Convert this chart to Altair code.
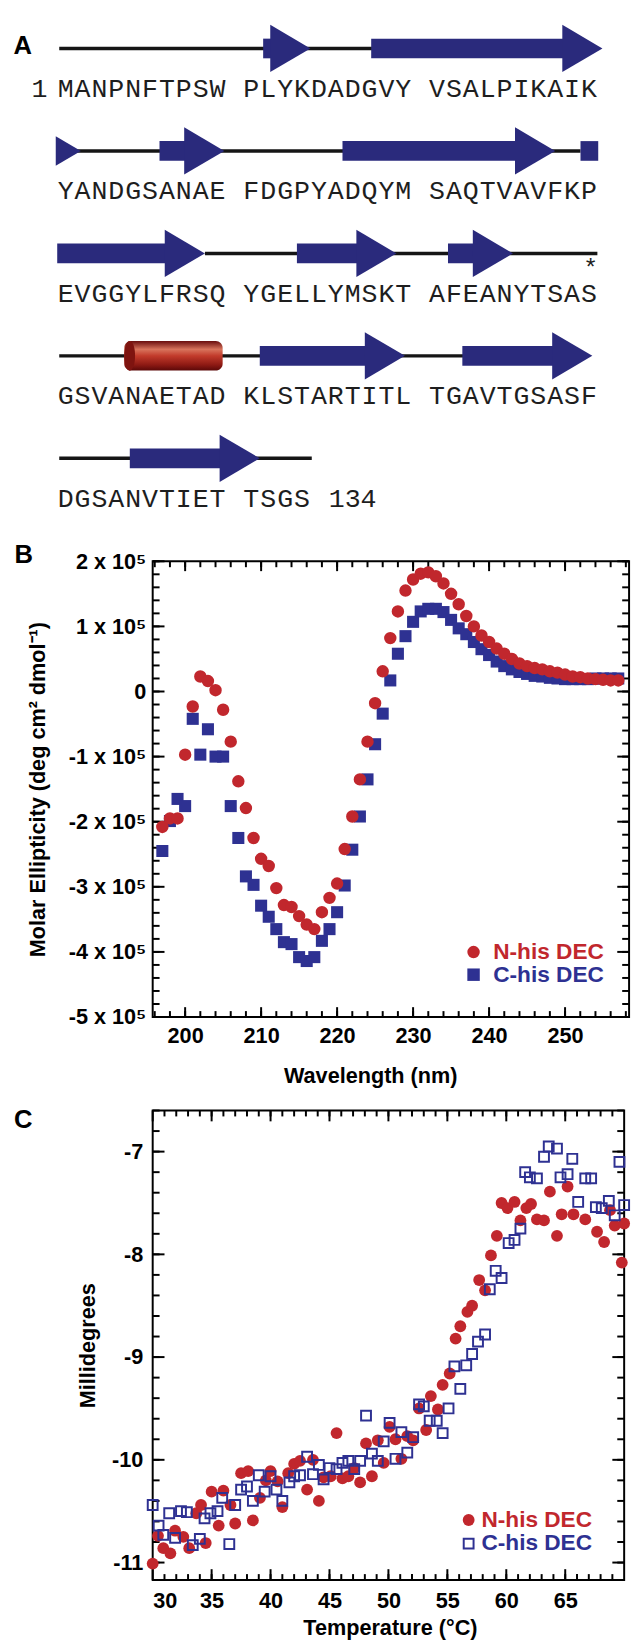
import altair as alt
import pandas as pd
import numpy as np

RED = "#c1272d"
BLUE = "#2e3192"
NAVY = "#2a2a7c"
SANS = "Liberation Sans"
MONO = "Liberation Mono"

# ---------------- Panel A data (sequence + secondary structure) ----------------
panel_labels = ["A", "B", "C"]
sequence_rows = [
    "MANPNFTPSWPLYKDADGVYVSALPIKAIK",
    "YANDGSANAEFDGPYADQYMSAQTVAVFKP",
    "EVGGYLFRSQYGELLYMSKTAFEANYTSAS",
    "GSVANAETADKLSTARTITLTGAVTGSASF",
    "DGSANVTIETTSGS",
]
end_numbers = ["1", "134"]
end_number_row = [0, 4]
end_number_col = [-1.05, 17.5]
marker_symbol = ["*"]
marker_row = [2.142]
marker_col = [31.6]

# positions in sequence-column units (one column per residue, blank column between blocks of 10)
coil_row = [0, 1, 2, 3, 4]
coil_from = [0.12, 0.5, 8.75, 0.12, 0.12]
coil_to = [31.0, 31.0, 32.0, 31.0, 15.08]

strand_row = [0, 0, 1, 1, 2, 2, 2, 3, 3, 4]
strand_from = [12.2, 18.6, 6.06, 16.9, 0.0, 14.2, 23.15, 12.0, 24.0, 4.3]
strand_tip = [15.0, 32.3, 9.9, 29.5, 8.75, 20.1, 27.0, 20.6, 31.7, 12.0]

cont_head_row = [1]
cont_head_tip = [1.4]
cont_body_row = [1]
cont_body_from = [31.0]
cont_body_to = [32.05]

helix_row = [3]
helix_from = [3.97]
helix_to = [9.8]

# ---------------- Panel B data (CD spectra) ----------------
series_names = ["N-his DEC", "C-his DEC"]
wavelength = list(range(197, 258))
n_his_cd = [-2.08, -1.95, -1.95, -0.97, -0.23, 0.23, 0.16, 0.02, -0.28, -0.77,
            -1.38, -1.79, -2.25, -2.57, -2.68, -3.02, -3.28, -3.31, -3.45, -3.58,
            -3.65, -3.39, -3.17, -2.95, -2.42, -1.92, -1.35, -0.77, -0.18, 0.31,
            0.82, 1.23, 1.55, 1.72, 1.81, 1.83, 1.77, 1.66, 1.50, 1.34,
            1.16, 1.00, 0.86, 0.76, 0.66, 0.58, 0.50, 0.43, 0.39, 0.36,
            0.34, 0.31, 0.29, 0.26, 0.23, 0.22, 0.20, 0.19, 0.18, 0.17, 0.17]
c_his_cd = [-2.45, -1.99, -1.65, -1.76, -0.42, -0.97, -0.58, -1.00, -1.00, -1.76,
            -2.25, -2.84, -2.97, -3.29, -3.46, -3.65, -3.85, -3.88, -4.08, -4.14,
            -4.08, -3.83, -3.65, -3.39, -2.98, -2.43, -1.92, -1.35, -0.81, -0.34,
            0.17, 0.58, 0.85, 1.07, 1.23, 1.27, 1.27, 1.22, 1.10, 0.97,
            0.88, 0.76, 0.65, 0.56, 0.46, 0.39, 0.34, 0.30, 0.27, 0.24,
            0.23, 0.21, 0.20, 0.19, 0.19, 0.19, 0.19, 0.20, 0.20, 0.20, 0.20]

# ---------------- Panel C data (thermal melt) ----------------
n_his_temp = [30.0, 30.45, 30.9, 31.5, 31.9, 32.6, 33.1, 33.7, 34.1, 34.5,
              35.0, 35.6, 36.0, 36.6, 37.0, 37.5, 38.1, 38.5, 39.1, 39.6,
              40.0, 40.6, 41.0, 41.5, 42.0, 42.5, 43.1, 43.6, 44.1, 44.5,
              45.1, 45.6, 46.1, 46.6, 47.1, 47.6, 48.1, 48.6, 49.1, 49.6,
              50.1, 50.6, 51.1, 51.6, 52.1, 52.6, 53.2, 53.6, 54.2, 54.6,
              55.2, 55.7, 56.1, 56.7, 57.1, 57.7, 58.2, 58.7, 59.2, 59.6,
              60.1, 60.7, 61.2, 61.7, 62.1, 62.6, 63.2, 63.7, 64.3, 64.7,
              65.2, 65.7, 66.7, 67.7, 68.3, 68.8, 69.2, 69.8, 70.0]
n_his_mdeg = [-11.01, -10.74, -10.86, -10.91, -10.69, -10.75, -10.86, -10.52, -10.44, -10.81,
              -10.31, -10.64, -10.30, -10.44, -10.62, -10.13, -10.11, -10.59, -10.37, -10.20,
              -10.11, -10.21, -10.46, -10.13, -10.04, -10.01, -10.29, -10.00, -10.40, -10.17,
              -10.16, -9.74, -10.18, -10.16, -10.08, -10.22, -9.84, -10.16, -9.81, -10.03,
              -9.68, -9.80, -9.99, -9.77, -9.81, -9.50, -9.71, -9.38, -9.51, -9.27,
              -9.16, -8.82, -8.70, -8.56, -8.50, -8.25, -8.35, -8.01, -7.82, -7.50,
              -7.55, -7.49, -7.67, -7.55, -7.51, -7.66, -7.67, -7.39, -7.82, -7.61,
              -7.34, -7.61, -7.66, -7.78, -7.88, -7.57, -7.72, -8.08, -7.70]
c_his_temp = [30.0, 30.5, 30.9, 31.4, 31.9, 32.4, 32.9, 33.4, 34.0, 34.4,
              34.9, 35.5, 35.9, 36.5, 37.0, 37.5, 38.0, 38.5, 39.0, 39.5,
              40.0, 40.5, 41.0, 41.6, 42.0, 42.5, 43.1, 43.6, 44.1, 44.5,
              45.0, 45.6, 46.1, 46.6, 47.1, 47.6, 48.1, 48.6, 49.1, 49.6,
              50.1, 50.6, 51.1, 51.6, 52.1, 52.6, 53.0, 53.5, 54.1, 54.6,
              55.1, 55.6, 56.1, 56.6, 57.1, 57.6, 58.2, 58.6, 59.1, 59.6,
              60.2, 60.7, 61.2, 61.6, 62.0, 62.6, 63.2, 63.6, 64.3, 64.6,
              65.2, 65.6, 66.1, 66.7, 67.2, 67.6, 68.1, 68.7, 69.2, 69.6, 70.0]
c_his_mdeg = [-10.44, -10.64, -10.73, -10.52, -10.76, -10.50, -10.51, -10.83, -10.77, -10.57,
              -10.52, -10.50, -10.37, -10.82, -10.44, -10.29, -10.26, -10.40, -10.15, -10.31,
              -10.16, -10.29, -10.40, -10.22, -10.16, -10.15, -9.97, -10.14, -10.05, -10.19,
              -10.08, -10.09, -10.03, -10.01, -10.09, -10.01, -9.57, -9.94, -10.01, -9.82,
              -9.64, -9.99, -9.73, -9.93, -9.78, -9.46, -9.48, -9.62, -9.62, -9.74,
              -9.50, -9.09, -9.31, -9.08, -8.97, -8.85, -8.78, -8.34, -8.16, -8.23,
              -7.89, -7.86, -7.75, -7.20, -7.25, -7.26, -7.05, -6.95, -6.97, -7.25,
              -7.22, -7.07, -7.49, -7.26, -7.26, -7.54, -7.55, -7.48, -7.62, -7.10, -7.52]

# tick labels
cd_ticks = [-5e5, -4e5, -3e5, -2e5, -1e5, 0, 1e5, 2e5]
wl_ticks = [200, 210, 220, 230, 240, 250]
md_ticks = [-11, -10, -9, -8, -7]
temp_ticks = [30, 35, 40, 45, 50, 55, 60, 65]

# ======================= Panel A =======================
A_W, A_H = 484, 506
COL_PX, ROW_PX = 17.15, 104.1
col0 = 5.656
row0 = -0.2305
xA = alt.Scale(domain=[col0, col0 + A_W / COL_PX], nice=False, zero=False)
yA = alt.Scale(domain=[row0, row0 + A_H / ROW_PX], reverse=True, nice=False, zero=False)

seq_records = []
for r, s in enumerate(sequence_rows):
    for p, ch in enumerate(s):
        seq_records.append({"ch": ch, "col": p + p // 10 + 0.5, "row": r + 0.395})
seq_df = pd.DataFrame(seq_records)

BODY = 0.096
strand_df = pd.DataFrame({"row": strand_row, "start": strand_from, "tip": strand_tip})
strand_df["end"] = strand_df["tip"] - 1.5
strand_df["y1"] = strand_df["row"] - BODY
strand_df["y2"] = strand_df["row"] + BODY
cont_body_df = pd.DataFrame({"row": cont_body_row, "start": cont_body_from, "end": cont_body_to})
cont_body_df["y1"] = cont_body_df["row"] - BODY
cont_body_df["y2"] = cont_body_df["row"] + BODY
cont_head_df = pd.DataFrame({"row": cont_head_row, "tip": cont_head_tip})
coil_df = pd.DataFrame({"row": coil_row, "start": coil_from, "end": coil_to})
helix_df = pd.DataFrame({"row": helix_row, "start": helix_from, "end": helix_to})
helix_df["y1"] = helix_df["row"] - 0.144
helix_df["y2"] = helix_df["row"] + 0.144
helix_df["cap"] = helix_df["start"] + 0.32
num_df = pd.DataFrame({"t": end_numbers, "col": end_number_col, "row": [r + 0.395 for r in end_number_row]})
star_df = pd.DataFrame({"t": marker_symbol, "col": marker_col, "row": marker_row})

HEAD = "M -1.7 -1 L 0 0 L -1.7 1 Z"
ELLIPSE = "M 0 -1 C 0.49 -1 0.49 1 0 1 C -0.49 1 -0.49 -1 0 -1 Z"

XA = dict(scale=xA, axis=None)
YA = dict(scale=yA, axis=None)

coil = alt.Chart(coil_df).mark_rule(color="#151515", strokeWidth=3.5).encode(
    x=alt.X("start:Q", **XA), x2="end:Q", y=alt.Y("row:Q", **YA))
bodies = alt.Chart(strand_df).mark_rect(color=NAVY).encode(
    x=alt.X("start:Q", **XA), x2="end:Q", y=alt.Y("y1:Q", **YA), y2="y2:Q")
cbodies = alt.Chart(cont_body_df).mark_rect(color=NAVY).encode(
    x=alt.X("start:Q", **XA), x2="end:Q", y=alt.Y("y1:Q", **YA), y2="y2:Q")
heads = alt.Chart(strand_df).mark_point(shape=HEAD, filled=True, size=2304, color=NAVY,
                                        opacity=1, strokeWidth=0).encode(
    x=alt.X("tip:Q", **XA), y=alt.Y("row:Q", **YA))
cheads = alt.Chart(cont_head_df).mark_point(shape=HEAD, filled=True, size=900, color=NAVY,
                                            opacity=1, strokeWidth=0).encode(
    x=alt.X("tip:Q", **XA), y=alt.Y("row:Q", **YA))
helix_grad = alt.Gradient(
    gradient="linear",
    stops=[alt.GradientStop(color="#6a0e0e", offset=0),
           alt.GradientStop(color="#d8735c", offset=0.28),
           alt.GradientStop(color="#c23b2b", offset=0.5),
           alt.GradientStop(color="#8e1a14", offset=0.8),
           alt.GradientStop(color="#5a0808", offset=1)],
    x1=0, x2=0, y1=0, y2=1)
helix = alt.Chart(helix_df).mark_rect(fill=helix_grad, cornerRadius=7).encode(
    x=alt.X("start:Q", **XA), x2="end:Q", y=alt.Y("y1:Q", **YA), y2="y2:Q")
helix_cap = alt.Chart(helix_df).mark_point(shape=ELLIPSE, filled=True, size=900, color="#7e1410",
                                           opacity=1, strokeWidth=0).encode(
    x=alt.X("cap:Q", **XA), y=alt.Y("row:Q", **YA))
seq_text = alt.Chart(seq_df).mark_text(font=MONO, fontSize=27, color="#1e1e1e",
                                       align="center", baseline="middle").encode(
    x=alt.X("col:Q", **XA), y=alt.Y("row:Q", **YA), text="ch:N")
num_text = alt.Chart(num_df).mark_text(font=MONO, fontSize=27, color="#1e1e1e",
                                       align="center", baseline="middle").encode(
    x=alt.X("col:Q", **XA), y=alt.Y("row:Q", **YA), text="t:N")
star_text = alt.Chart(star_df).mark_text(font=MONO, fontSize=25, color="#1e1e1e",
                                         align="center", baseline="middle").encode(
    x=alt.X("col:Q", **XA), y=alt.Y("row:Q", **YA), text="t:N")


def panel_letter(i, x, y):
    return alt.Chart(pd.DataFrame({"label": [panel_labels[i]]})).mark_text(
        font=SANS, fontSize=26, fontWeight="bold", color="black",
        align="center", baseline="middle").encode(
        x=alt.value(x), y=alt.value(y), text="label:N")


panelA = alt.layer(coil, bodies, cbodies, heads, cheads, helix, helix_cap,
                   seq_text, num_text, star_text, panel_letter(0, -132, 22)).properties(
    width=A_W, height=A_H, view=alt.ViewBackground(strokeOpacity=0, strokeWidth=0))


# ======================= helpers =======================
def frame_ticks(XE, YE, W, H, xvals, yvals, xlen, ylen):
    out = []
    ydf = pd.DataFrame({"v": yvals})
    xdf = pd.DataFrame({"v": xvals})
    out.append(alt.Chart(ydf).mark_rule(color="black", strokeWidth=2).encode(
        y=alt.Y("v:Q", **YE), x=alt.value(0), x2=alt.value(ylen)))
    out.append(alt.Chart(ydf).mark_rule(color="black", strokeWidth=2).encode(
        y=alt.Y("v:Q", **YE), x=alt.value(W), x2=alt.value(W - ylen)))
    out.append(alt.Chart(xdf).mark_rule(color="black", strokeWidth=2).encode(
        x=alt.X("v:Q", **XE), y=alt.value(0), y2=alt.value(xlen)))
    out.append(alt.Chart(xdf).mark_rule(color="black", strokeWidth=2).encode(
        x=alt.X("v:Q", **XE), y=alt.value(H), y2=alt.value(H - xlen)))
    return out


def legend_layers(x_marker, x_text, y1, y2, hollow, sym_size):
    d1 = pd.DataFrame({"name": [series_names[0]]})
    d2 = pd.DataFrame({"name": [series_names[1]]})
    m1 = alt.Chart(d1).mark_circle(size=sym_size, color=RED, opacity=1).encode(
        x=alt.value(x_marker), y=alt.value(y1))
    if hollow:
        m2 = alt.Chart(d2).mark_square(size=100, filled=False, strokeWidth=2, color=BLUE,
                                       opacity=1).encode(x=alt.value(x_marker), y=alt.value(y2))
    else:
        m2 = alt.Chart(d2).mark_square(size=sym_size, color=BLUE, opacity=1).encode(
            x=alt.value(x_marker), y=alt.value(y2))
    t1 = alt.Chart(d1).mark_text(font=SANS, fontSize=23, fontWeight="bold", color=RED,
                                 align="left", baseline="middle").encode(
        x=alt.value(x_text), y=alt.value(y1), text="name:N")
    t2 = alt.Chart(d2).mark_text(font=SANS, fontSize=23, fontWeight="bold", color=BLUE,
                                 align="left", baseline="middle").encode(
        x=alt.value(x_text), y=alt.value(y2), text="name:N")
    return [m1, m2, t1, t2]


AX = dict(labelFont=SANS, labelFontWeight="bold", labelFontSize=22, labelColor="black",
          titleFont=SANS, titleFontWeight="bold", titleFontSize=22, titleColor="black",
          ticks=False, domain=False, grid=False)

# ======================= Panel B =======================
B_W, B_H = 484, 463
xB = alt.Scale(domain=[195.73, 195.73 + B_W / 7.72], nice=False, zero=False)
yB = alt.Scale(domain=[-5e5, 2e5], nice=False, zero=False)
xB_axis = alt.Axis(values=wl_ticks, labelPadding=8.5, title="Wavelength (nm)",
                   titleX=221, titleY=60, titleAlign="center", titleBaseline="middle", **AX)
yB_axis = alt.Axis(values=cd_ticks, labelPadding=7,
                   labelExpr="datum.value == 0 ? '0' : (datum.value / 100000) + ' x 10\u2075'",
                   title="Molar Ellipticity (deg cm\u00b2 dmol\u207b\u00b9)", titleX=-117,
                   titleY=B_H / 2, titleAngle=270, titleAlign="center",
                   titleBaseline="middle", **AX)
XB = dict(scale=xB, axis=xB_axis)
YB = dict(scale=yB, axis=yB_axis)

cd_df = pd.DataFrame({"wl": wavelength + wavelength,
                      "val": [v * 1e5 for v in n_his_cd] + [v * 1e5 for v in c_his_cd],
                      "series": [series_names[0]] * len(wavelength) + [series_names[1]] * len(wavelength)})

b_sq = alt.Chart(cd_df).transform_filter(alt.datum.series == series_names[1]).mark_square(
    size=150, color=BLUE, opacity=1).encode(x=alt.X("wl:Q", **XB), y=alt.Y("val:Q", **YB))
b_ci = alt.Chart(cd_df).transform_filter(alt.datum.series == series_names[0]).mark_circle(
    size=160, color=RED, opacity=1).encode(x=alt.X("wl:Q", **XB), y=alt.Y("val:Q", **YB))

b_ticks = (frame_ticks(XB, YB, B_W, B_H, list(np.arange(196, 259, 2)),
                       list(np.arange(-5e5, 2e5 + 1, 2e4)), 6, 7)
           + frame_ticks(XB, YB, B_W, B_H, wl_ticks, cd_ticks, 10, 12))

panelB = alt.layer(*b_ticks, b_sq, b_ci, *legend_layers(326, 346, 397, 420, False, 160),
                   panel_letter(1, -131, -6)).properties(
    width=B_W, height=B_H, view=alt.ViewBackground(stroke="black", strokeWidth=2))

# ======================= Panel C =======================
C_W, C_H = 479, 477
xC = alt.Scale(domain=[30, 70], nice=False, zero=False)
yC = alt.Scale(domain=[-11.17, -6.60], nice=False, zero=False)
xC_axis = alt.Axis(values=temp_ticks, labelPadding=10.5, title="Temperature (\u00b0C)",
                   titleX=241, titleY=48, titleAlign="center", titleBaseline="middle", **AX)
yC_axis = alt.Axis(values=md_ticks, labelPadding=10, labelExpr="'' + datum.value",
                   title="Millidegrees", titleX=-66, titleY=C_H / 2, titleAngle=270,
                   titleAlign="center", titleBaseline="middle", **AX)
XC = dict(scale=xC, axis=xC_axis)
YC = dict(scale=yC, axis=yC_axis)

n_df = pd.DataFrame({"t": n_his_temp, "m": n_his_mdeg})
c_df = pd.DataFrame({"t": c_his_temp, "m": c_his_mdeg})

c_ci = alt.Chart(n_df).mark_circle(size=144, color=RED, opacity=1).encode(
    x=alt.X("t:Q", **XC), y=alt.Y("m:Q", **YC))
c_sq = alt.Chart(c_df).mark_square(size=100, filled=False, strokeWidth=2, color=BLUE, opacity=1).encode(
    x=alt.X("t:Q", **XC), y=alt.Y("m:Q", **YC))

c_ticks = (frame_ticks(XC, YC, C_W, C_H, list(np.arange(31, 70, 1)),
                       list(np.round(np.arange(-11.0, -6.59, 0.2), 2)), 6, 7)
           + frame_ticks(XC, YC, C_W, C_H, temp_ticks, md_ticks, 11, 12))

panelC = alt.layer(*c_ticks, c_ci, c_sq, *legend_layers(321, 334, 416, 440, True, 144),
                   panel_letter(2, -131.5, 10)).properties(
    width=C_W, height=C_H, view=alt.ViewBackground(stroke="black", strokeWidth=2))

chart = alt.vconcat(panelA, panelB, panelC, spacing=19).properties(
    padding={"left": 5, "top": 3, "right": 0, "bottom": 0},
    background="white")

chart.save("out.html", embed_options={"renderer": "svg", "actions": False})
